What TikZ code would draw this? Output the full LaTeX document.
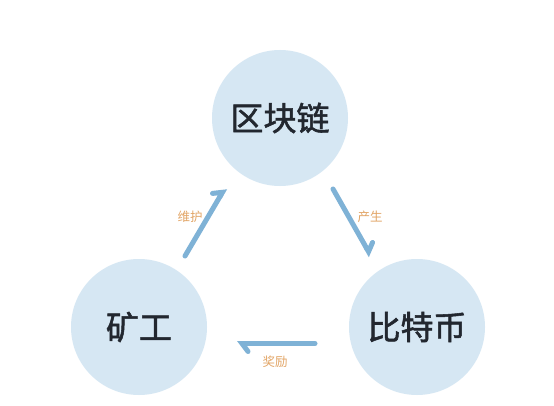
\documentclass[tikz,border=0pt]{standalone}
\usepackage{fontspec}
\newfontfamily\cjk{Noto Sans CJK SC}
\newfontfamily\cjkheavy{Noto Sans CJK SC}[FakeBold=1.6]
\usetikzlibrary{arrows.meta}
\definecolor{circfill}{HTML}{D6E7F3}
\definecolor{arrowblue}{HTML}{7FB2D6}
\definecolor{labelorange}{HTML}{E2A566}
\definecolor{textdark}{HTML}{22272F}
\tikzset{
  bubble/.style={circle, fill=circfill, minimum size=136pt, inner sep=0pt,
    text=textdark, font=\cjkheavy\fontsize{33}{36}\selectfont},
  flowarrow/.style={draw=arrowblue, line width=5pt, line cap=round,
    -{Straight Barb[harpoon, length=6pt, width=16pt, line cap=round]}},
  flowlabel/.style={text=labelorange, font=\cjk\fontsize{12.5}{14}\selectfont, inner sep=0pt}
}
\begin{document}
\begin{tikzpicture}[x=1pt,y=1pt]
\useasboundingbox (0,0) rectangle (554,405);
\fill[white] (0,0) rectangle (554,405);
\node[bubble] (chain) at (280,287) {区块链};
\node[bubble] (miner) at (139,78) {矿工};
\node[bubble] (coin) at (417,78) {比特币};
\coordinate (a1s) at (185,149);
\coordinate (a1e) at (225,217);
\coordinate (a2s) at (333,216);
\coordinate (a2e) at (371,149);
\coordinate (a3s) at (315,61.5);
\coordinate (a3e) at (237,61.5);
\draw[flowarrow] (a1s) -- (a1e);
\draw[flowarrow] (a2s) -- (a2e);
\draw[flowarrow] (a3s) -- (a3e);
\node[flowlabel] (l1) at (190,188) {维护};
\node[flowlabel] (l2) at (370,188) {产生};
\node[flowlabel] (l3) at (275,43) {奖励};
\end{tikzpicture}
\end{document}
